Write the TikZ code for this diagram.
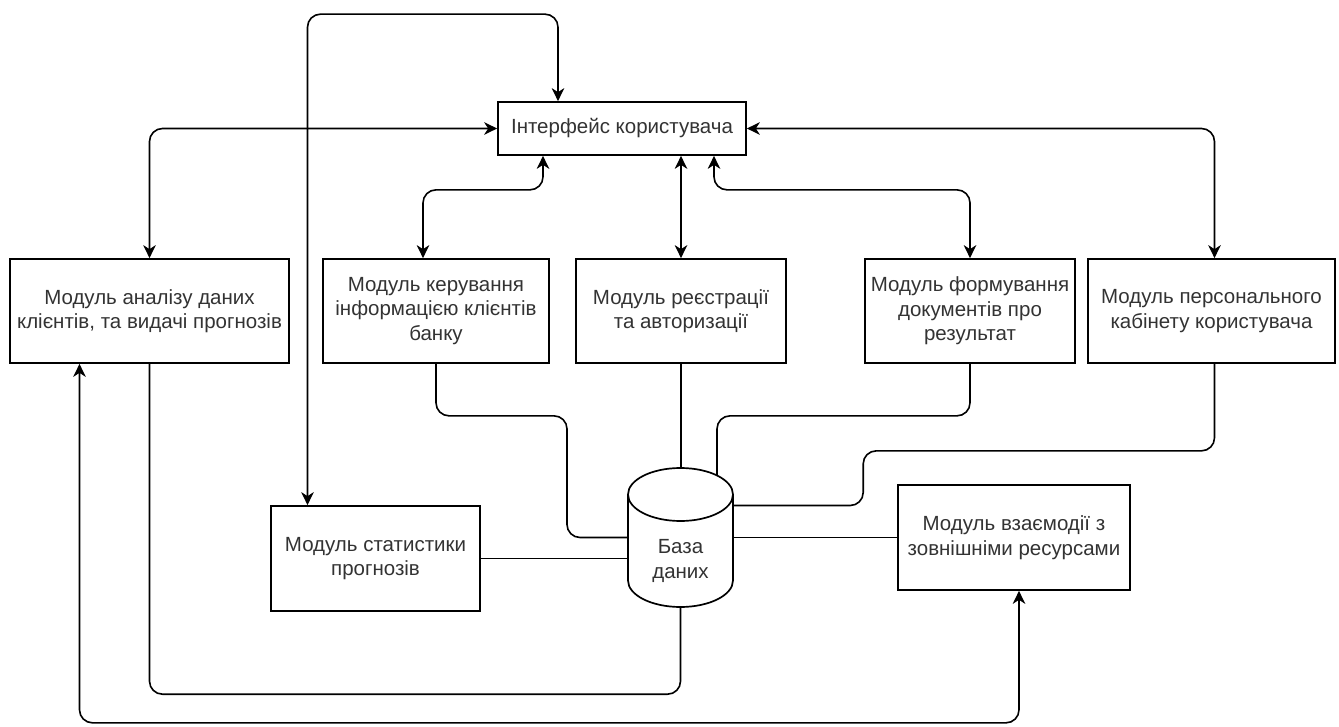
\documentclass[tikz,border=0pt]{standalone}
\usepackage{fontspec}
\setmainfont{Liberation Sans}
\usetikzlibrary{arrows.meta,calc}
\begin{document}
\begin{tikzpicture}[x=1pt,y=-1pt,
  box/.style={draw, line width=1.7pt, rectangle, inner sep=0pt, align=center,
              text=black!80, font=\fontsize{20.5}{24.5}\selectfont},
  label/.style={inner sep=0pt, align=center, text=black!80, font=\fontsize{20.5}{24.5}\selectfont},
  conn/.style={line width=1.6pt, rounded corners=13pt},
  tip/.tip={Stealth[length=13pt,width=12.5pt,inset=4pt]},
  biarrow/.style={conn, tip-tip},
]
\fill[white] (0,0) rectangle (1339,727);
\useasboundingbox (0,0) rectangle (1339,727);

% modules
\node[box, minimum width=248pt, minimum height=53pt] (ui) at (622,128.5) {Інтерфейс користувача};
\node[box, minimum width=279pt, minimum height=104pt] (ana) at (149.5,311) {Модуль аналізу даних\\клієнтів, та видачі прогнозів};
\node[box, minimum width=226pt, minimum height=104pt] (mgmt) at (436,311) {Модуль керування\\інформацією клієнтів\\банку};
\node[box, minimum width=210pt, minimum height=104pt] (reg) at (681,311) {Модуль реєстрації\\та авторизації};
\node[box, minimum width=210pt, minimum height=104pt] (form) at (970,311) {Модуль формування\\документів про\\результат};
\node[box, minimum width=247pt, minimum height=104pt] (pers) at (1211.5,311) {Модуль персонального\\кабінету користувача};
\node[box, minimum width=209pt, minimum height=105pt] (stat) at (375.5,558.5) {Модуль статистики\\прогнозів};
\node[box, minimum width=232pt, minimum height=105pt] (ext) at (1014,537.5) {Модуль взаємодії з\\зовнішніми ресурсами};

% database cylinder
\node[minimum width=105pt, minimum height=139pt, inner sep=0pt] (db) at (680.5,537.5) {};
\draw[line width=1.7pt] (680.5,494.5) ellipse [x radius=52.5pt, y radius=26.5pt];
\draw[line width=1.7pt] (628,494.5) -- (628,580.5)
  arc[start angle=180, end angle=360, x radius=52.5pt, y radius=26.5pt] -- (733,494.5);
\node[label] (dbl) at (680.5,561) {База\\даних};

% links to the user interface
\draw[biarrow] (ui.west) -| (ana.north);
\draw[biarrow] ($(ui.south)+(-79,0)$) -- ++(0,34) -| ($(mgmt.north)+(-13,0)$);
\draw[biarrow] (reg.north |- ui.south) -- (reg.north);
\draw[biarrow] ($(ui.south)+(92,0)$) -- ++(0,34) -| (form.north);
\draw[biarrow] (ui.east) -| ($(pers.north)+(3,0)$);
\draw[biarrow] ($(stat.north)+(-68,0)$) -- ++(0,-491) -| ($(ui.north)+(-64,0)$);

% links to the database
\draw[conn] (mgmt.south) -- ++(0,52) -- ++(131,0) |- (db.west);
\draw[conn] (reg.south) -- (reg.south |- db.north);
\draw[conn] (form.south) -- ++(0,52) -| ($(db.north)+(36.5,7.5)$);
\draw[conn] ($(pers.south)+(3,0)$) -- ++(0,87) -| ($(db.east)+(130,-32)$) -- ($(db.east)+(0,-32)$);
\draw[conn] (db.east) -- (ext.west);
\draw[conn] (stat.east) -- (db.west |- stat.east);
\draw[conn] (ana.south) |- ($(db.south)+(0,87)$) -- (db.south);

% analysis <-> external resources
\draw[biarrow] ($(ana.south)+(-70,0)$) -- ++(0,359) -| ($(ext.south)+(5,0)$);
\end{tikzpicture}
\end{document}
